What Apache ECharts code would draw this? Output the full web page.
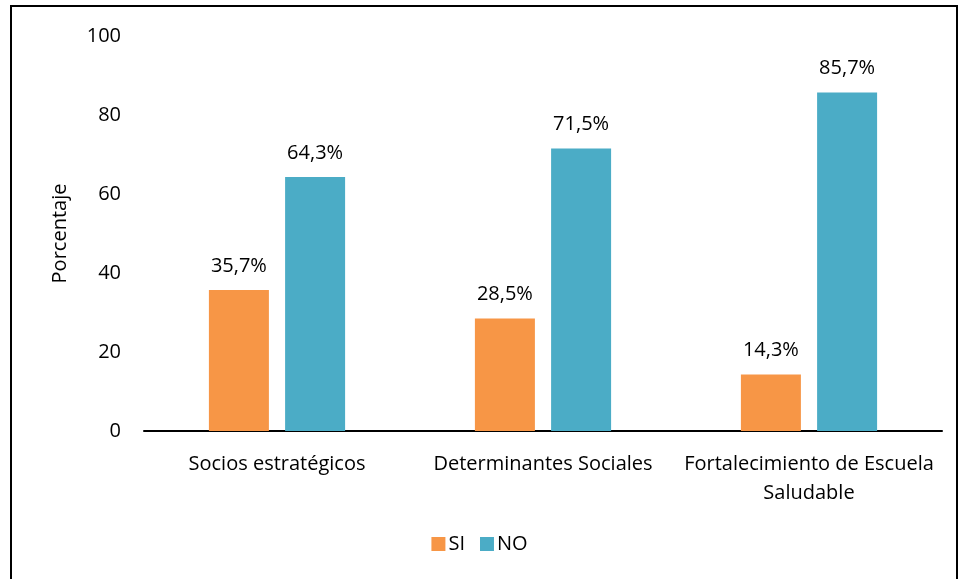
<!DOCTYPE html>
<html>
<head>
<meta charset="utf-8">
<script src="https://cdn.jsdelivr.net/npm/echarts@6/dist/echarts.min.js"></script>
<style>
    html, body { margin: 0; padding: 0; background: #fff; }
    #main { width: 959px; height: 579px; }
</style>
</head>
<body>
<div id="main"></div>
<script>
// datos
const categorias = ['Socios estratégicos', 'Determinantes Sociales', 'Fortalecimiento de Escuela\nSaludable'];
const valoresSI = [35.7, 28.5, 14.3];
const valoresNO = [64.3, 71.5, 85.7];
const ticksY = [0, 20, 40, 60, 80, 100];

const fuente = 'Open Sans';
const chart = echarts.init(document.getElementById('main'));

const etiqueta = {
    show: true,
    position: 'top',
    distance: 14,
    fontFamily: fuente,
    fontSize: 20,
    color: '#000',
    formatter: p => p.value.toFixed(1).replace('.', ',') + '%'
};

const option = {
    backgroundColor: '#fff',
    textStyle: { fontFamily: fuente },
    graphic: [{
        type: 'rect',
        shape: { x: 11, y: 6, width: 946, height: 600 },
        style: { fill: 'none', stroke: '#000', lineWidth: 2 },
        silent: true
    }],
    legend: {
        data: ['SI', 'NO'],
        bottom: 20,
        left: 'center',
        itemWidth: 14,
        itemHeight: 14,
        itemGap: 15,
        icon: 'rect',
        textStyle: { fontFamily: fuente, fontSize: 20, color: '#000', padding: [0, 0, 0, -2] }
    },
    grid: { left: 144, right: 17, top: 36, bottom: 148 },
    xAxis: {
        type: 'category',
        data: categorias,
        axisLine: { lineStyle: { color: '#000', width: 2 } },
        axisTick: { show: false },
        axisLabel: { fontFamily: fuente, fontSize: 20, color: '#000', margin: 19, lineHeight: 29, interval: 0 }
    },
    yAxis: {
        type: 'value',
        min: ticksY[0],
        max: ticksY[ticksY.length - 1],
        interval: 20,
        name: 'Porcentaje',
        nameLocation: 'middle',
        nameGap: 74,
        nameTextStyle: { fontFamily: fuente, fontSize: 20, color: '#000' },
        axisLine: { show: false },
        axisTick: { show: false },
        splitLine: { show: false },
        axisLabel: { fontFamily: fuente, fontSize: 20, color: '#000', margin: 23 }
    },
    series: [
        {
            name: 'SI',
            type: 'bar',
            data: valoresSI,
            barWidth: 60,
            barGap: '27%',
            itemStyle: { color: '#F79646' },
            label: etiqueta
        },
        {
            name: 'NO',
            type: 'bar',
            data: valoresNO,
            barWidth: 60,
            barGap: '27%',
            itemStyle: { color: '#4BACC6' },
            label: etiqueta
        }
    ]
};
option && chart.setOption(option);
</script>
</body>
</html>
